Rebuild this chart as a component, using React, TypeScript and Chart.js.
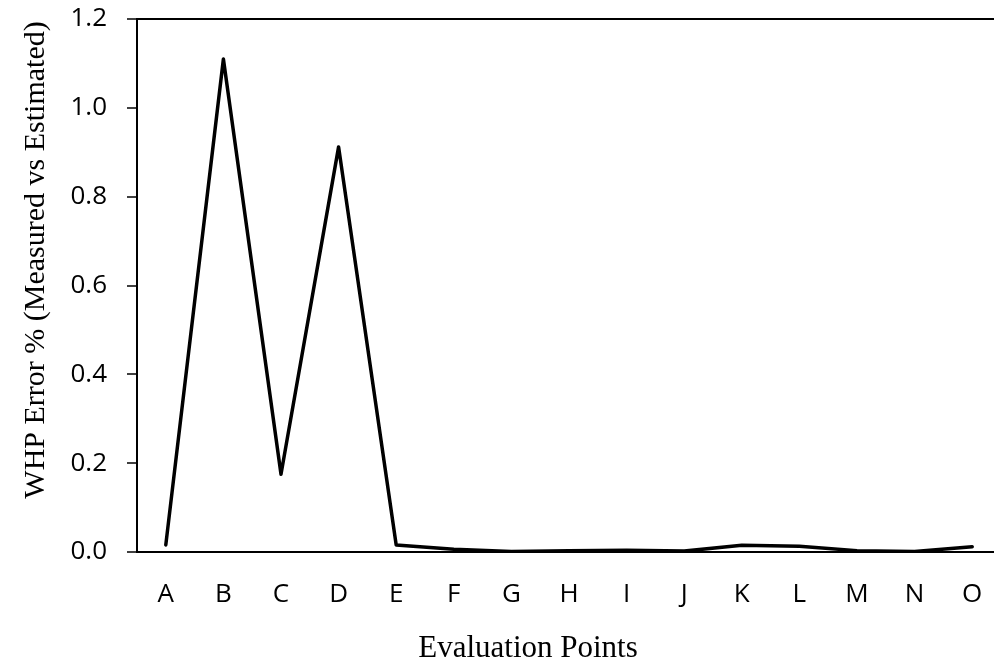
import React, { useEffect, useRef } from "react";
import { Chart, registerables } from "chart.js";

Chart.register(...registerables);

const categories = ["A", "B", "C", "D", "E", "F", "G", "H", "I", "J", "K", "L", "M", "N", "O"];
const whpError = [0.016, 1.11, 0.175, 0.912, 0.016, 0.006, 0.001, 0.003, 0.004, 0.002, 0.015, 0.013, 0.003, 0.001, 0.012];
const yTicks = [0, 0.2, 0.4, 0.6, 0.8, 1.0, 1.2];
const xTitle = "Evaluation Points";
const yTitle = "WHP Error % (Measured vs Estimated)";

const titlePlugin = {
  id: "axisTitles",
  afterDraw(chart: any) {
    const ctx = chart.ctx;
    ctx.save();
    ctx.fillStyle = "#000";
    ctx.textAlign = "center";
    ctx.textBaseline = "alphabetic";
    ctx.font = "31px 'Liberation Serif', 'Times New Roman', serif";
    ctx.fillText(xTitle, 528, 657);
    ctx.font = "30px 'Liberation Serif', 'Times New Roman', serif";
    ctx.translate(44, 260);
    ctx.rotate(-Math.PI / 2);
    ctx.fillText(yTitle, 0, 0);
    ctx.restore();
  },
};

export default function App() {
  const ref = useRef<HTMLCanvasElement>(null);
  useEffect(() => {
    if (!ref.current) return;
    const chart = new Chart(ref.current, {
      type: "line",
      data: {
        labels: categories,
        datasets: [
          {
            data: whpError,
            borderColor: "#000",
            borderWidth: 3.5,
            pointRadius: 0,
            tension: 0,
            fill: false,
            borderCapStyle: "round",
            borderJoinStyle: "round",
          },
        ],
      },
      options: {
        animation: false,
        responsive: false,
        maintainAspectRatio: false,
        layout: { padding: { top: 19, left: 0, right: 0, bottom: 0 } },
        plugins: { legend: { display: false }, tooltip: { enabled: false }, title: { display: false } },
        scales: {
          x: {
            type: "category",
            offset: true,
            grid: { display: false, drawTicks: false },
            border: { display: true, color: "#000", width: 2 },
            ticks: {
              color: "#000",
              padding: 27,
              font: { family: "'Open Sans', sans-serif", size: 26 },
              maxRotation: 0,
              autoSkip: false,
            },
            afterFit(scale: any) {
              scale.height = 111;
              scale.paddingLeft = 0;
              scale.paddingRight = 0;
            },
          },
          y: {
            min: 0,
            max: 1.2,
            afterBuildTicks(scale: any) {
              scale.ticks = yTicks.map((v) => ({ value: v }));
            },
            grid: {
              drawOnChartArea: true,
              drawTicks: true,
              tickLength: 10,
              tickColor: "#000",
              tickWidth: 1.5,
              lineWidth: 2,
              color: (c: any) => (c.tick && Math.abs(c.tick.value - 1.2) < 1e-9 ? "#000" : "rgba(0,0,0,0)"),
            },
            border: { display: true, color: "#000", width: 2 },
            ticks: {
              color: "#000",
              padding: 20,
              font: { family: "'Open Sans', sans-serif", size: 26 },
              callback: (v: any) => Number(v).toFixed(1),
            },
            afterFit(scale: any) {
              scale.width = 137;
              scale.paddingTop = 0;
              scale.paddingBottom = 0;
            },
          },
        },
      },
      plugins: [titlePlugin],
    });
    return () => chart.destroy();
  }, []);
  return (
    <div style={{ position: "fixed", left: 0, top: 0, width: 1001, height: 663, background: "#fff" }}>
      <canvas ref={ref} width={1001} height={663} style={{ display: "block" }} />
    </div>
  );
}
